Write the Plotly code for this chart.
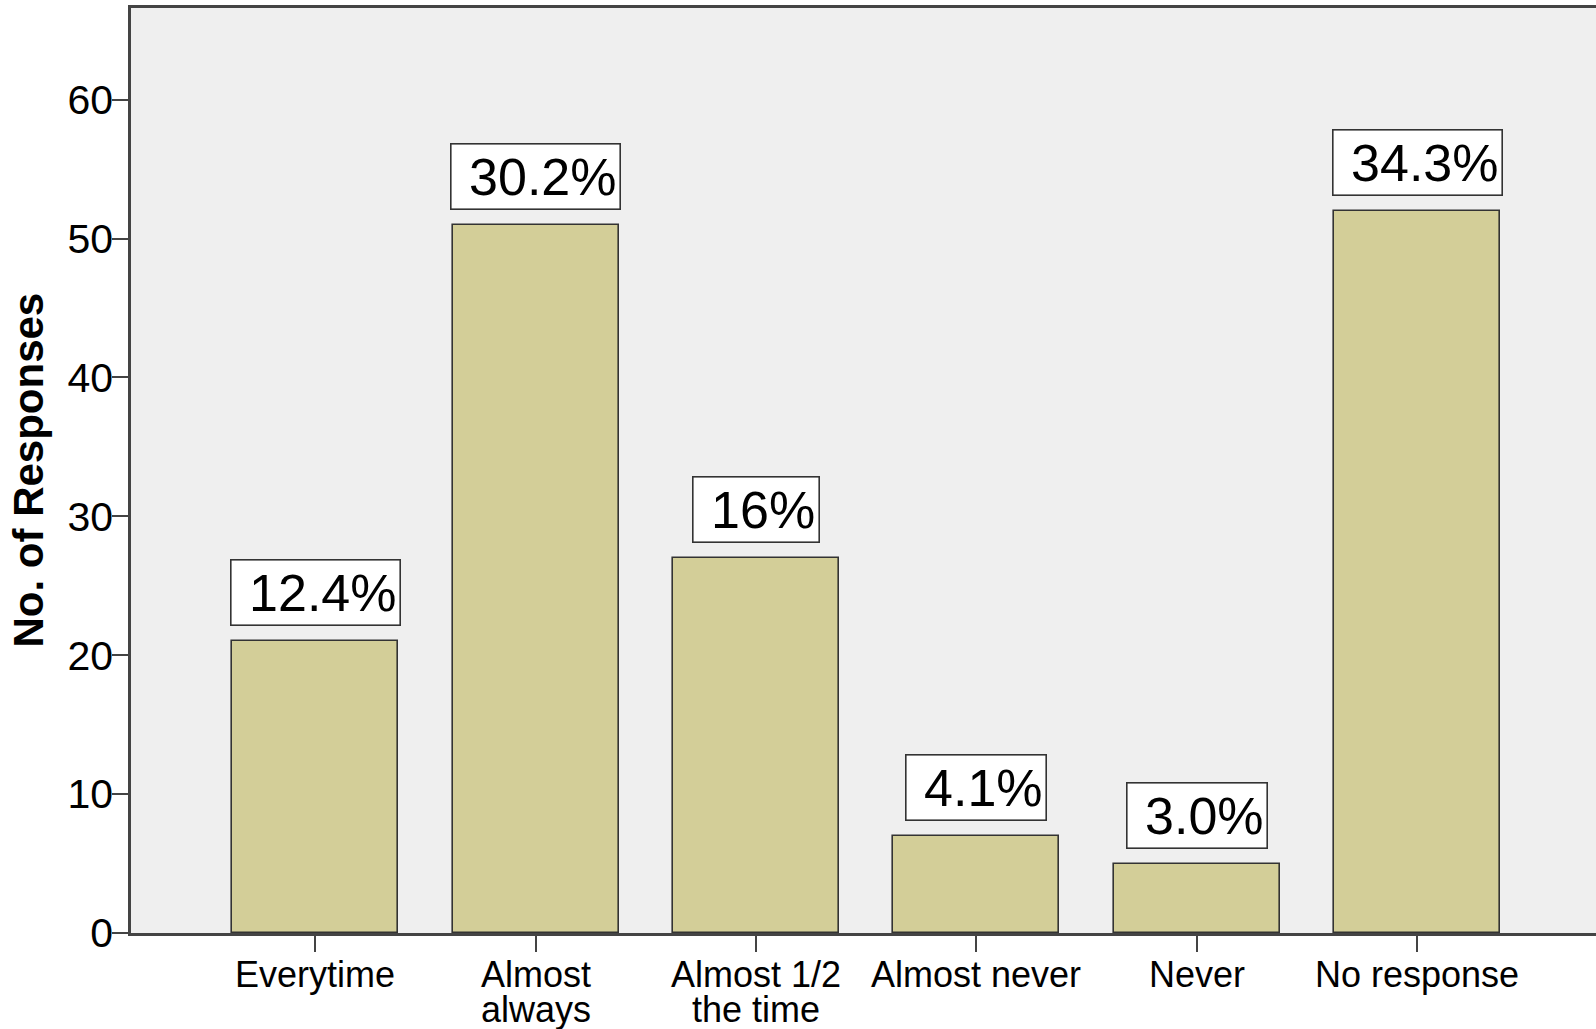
import plotly.graph_objects as go

# Survey responses per answer category
categories = ["Everytime", "Almost<br>always", "Almost 1/2<br>the time",
              "Almost never", "Never", "No response"]
counts = [21, 51, 27, 7, 5, 52]
pct_labels = ["12.4%", "30.2%", "16%", "4.1%", "3.0%", "34.3%"]
y_ticks = [0, 10, 20, 30, 40, 50, 60]

FONT = "Liberation Sans, Arial, sans-serif"
AXIS = "#444444"

x_pos = list(range(len(categories)))

fig = go.Figure(go.Bar(
    x=x_pos,
    y=counts,
    width=0.753,
    marker=dict(color="#d3ce98", line=dict(color="#333333", width=1.6)),
    hoverinfo="skip",
))

annotations = []

# Percentage labels in white boxes above each bar
for xi, yi, lab in zip(x_pos, counts, pct_labels):
    annotations.append(dict(
        x=xi, y=yi, xref="x", yref="y",
        text="\u00a0" + lab,
        showarrow=False,
        yanchor="bottom", xanchor="center",
        yshift=15,
        font=dict(family=FONT, size=52, color="#000000"),
        bgcolor="#ffffff", bordercolor="#333333", borderwidth=1.6, borderpad=3,
    ))

# Category labels, one annotation per line for tight line spacing
for xi, cat in zip(x_pos, categories):
    for k, line in enumerate(cat.split("<br>")):
        annotations.append(dict(
            x=xi, y=0, xref="x", yref="paper",
            text=line, showarrow=False,
            xanchor="center", yanchor="middle",
            yshift=-41 - 35 * k,
            font=dict(family=FONT, size=36, color="#000000"),
        ))

# Vertical axis title
annotations.append(dict(
    x=(28 - 131) / 1465, y=0.5, xref="paper", yref="paper",
    text="<b>No. of Responses</b>", showarrow=False, textangle=-90,
    xanchor="center", yanchor="middle",
    font=dict(family=FONT, size=42, color="#000000"),
))

fig.update_layout(
    width=1596, height=1029,
    margin=dict(l=131, r=0, t=8, b=96),
    paper_bgcolor="#ffffff",
    plot_bgcolor="#efefef",
    showlegend=False,
    bargap=0,
    annotations=annotations,
    xaxis=dict(
        range=[-0.836, 5.811],
        tickvals=x_pos, showticklabels=False,
        ticks="outside", ticklen=16, tickwidth=2, tickcolor=AXIS,
        showline=True, linecolor=AXIS, linewidth=2.5, mirror=True,
        showgrid=False, zeroline=False,
    ),
    yaxis=dict(
        range=[0, 66.6],
        tickvals=y_ticks,
        ticks="outside", ticklen=16, tickwidth=2, tickcolor=AXIS,
        tickfont=dict(family=FONT, size=41, color="#000000"),
        ticklabelstandoff=-9,
        showline=True, linecolor=AXIS, linewidth=2.5,
        showgrid=False, zeroline=False,
    ),
)

fig.write_html("out.html")
